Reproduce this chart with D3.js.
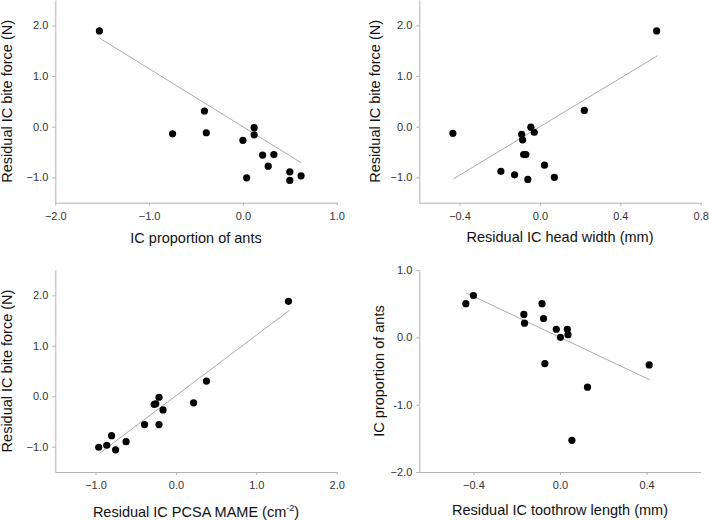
<!DOCTYPE html>
<html><head><meta charset="utf-8">
<script src="https://cdn.jsdelivr.net/npm/d3@7"></script>
<style>
html,body{margin:0;padding:0;background:#fff;}
svg{display:block;font-family:"Liberation Sans",Arial,sans-serif;}
</style></head>
<body>
<svg id="c" width="709" height="520"></svg>
<script>
// ---- data ----
const p1X = [-1.53, -0.75, -0.41, -0.39, 0.00, 0.04, 0.12, 0.12, 0.21, 0.27, 0.33, 0.50, 0.50, 0.62];
const p1Y = [1.89, -0.14, 0.31, -0.12, -0.27, -1.01, -0.02, -0.16, -0.56, -0.78, -0.55, -0.89, -1.06, -0.97];
const p1FitX = [-1.53, 0.62];
const p1FitY = [1.75, -0.71];

const p2X = [-0.433, -0.045, -0.091, -0.086, -0.028, -0.081, -0.070, 0.023, -0.194, -0.126, -0.060, 0.072, 0.221, 0.581];
const p2Y = [-0.13, -0.01, -0.15, -0.26, -0.11, -0.55, -0.55, -0.76, -0.88, -0.95, -1.04, -1.00, 0.32, 1.89];
const p2FitX = [-0.43, 0.585];
const p2FitY = [-1.03, 1.40];

const p3X = [-0.96, -0.86, -0.80, -0.75, -0.62, -0.39, -0.27, -0.25, -0.21, -0.16, -0.21, 0.22, 0.38, 1.40];
const p3Y = [-1.01, -0.97, -0.78, -1.06, -0.90, -0.56, -0.16, -0.15, -0.02, -0.27, -0.56, -0.13, 0.30, 1.88];
const p3FitX = [-0.95, 1.41];
const p3FitY = [-1.13, 1.70];

const p4X = [-0.435, -0.40, -0.167, -0.164, -0.083, -0.076, -0.070, -0.017, 0.002, 0.034, 0.037, 0.127, 0.055, 0.412];
const p4Y = [0.50, 0.62, 0.34, 0.21, 0.50, 0.28, -0.39, 0.12, 0.00, 0.12, 0.04, -0.74, -1.53, -0.41];
const p4FitX = [-0.434, 0.414];
const p4FitY = [0.66, -0.63];

const biteTicks = [2, 1, 0, -1];
const biteTickLabels = ["2.0", "1.0", "0.0", "\u22121.0"];
const p1XTicks = [-2, -1, 0, 1];
const p1XTickLabels = ["\u22122.0", "\u22121.0", "0.0", "1.0"];
const p2XTicks = [-0.4, 0, 0.4, 0.8];
const p2XTickLabels = ["\u22120.4", "0.0", "0.4", "0.8"];
const p3XTicks = [-1, 0, 1, 2];
const p3XTickLabels = ["\u22121.0", "0.0", "1.0", "2.0"];
const p4XTicks = [-0.4, 0, 0.4];
const p4XTickLabels = ["\u22120.4", "0.0", "0.4"];
const p4YTicks = [1, 0, -1, -2];
const p4YTickLabels = ["1.0", "0.0", "-1.0", "\u22122.0"];

const p1XLabel = "IC proportion of ants";
const p2XLabel = "Residual IC head width (mm)";
const p3XLabel = ["Residual IC PCSA MAME (cm", "-2", ")"];
const p4XLabel = "Residual IC toothrow length (mm)";
const biteYLabel = "Residual IC bite force (N)";
const p4YLabel = "IC proportion of ants";

// ---- drawing ----
const svg = d3.select("#c");
const axisColor = "#b3b3b3";
const lineColor = "#aaaaaa";

function panel(o) {
  const g = svg.append("g");
  const x = d3.scaleLinear().domain(o.xDomain).range([o.left, o.right]);
  const y = d3.scaleLinear().domain(o.yDomain).range([o.bottom, o.top]);

  const xa = g.append("g").attr("transform", `translate(0,${o.bottom})`)
    .call(d3.axisBottom(x).tickValues(o.xTicks).tickSize(3).tickSizeOuter(0)
      .tickFormat((d, i) => o.xTickLabels[i]));
  const ya = g.append("g").attr("transform", `translate(${o.left},0)`)
    .call(d3.axisLeft(y).tickValues(o.yTicks).tickSize(3).tickSizeOuter(0)
      .tickFormat((d, i) => o.yTickLabels[i]));
  [xa, ya].forEach(a => {
    a.select(".domain").attr("stroke", axisColor);
    a.selectAll(".tick line").attr("stroke", axisColor);
    a.selectAll(".tick text").attr("fill", "#333").style("font-size", "11px")
      .style("font-family", '"Liberation Sans",Arial,sans-serif');
  });
  xa.selectAll(".tick text").attr("dy", "0").attr("y", 17);
  ya.selectAll(".tick text").attr("x", -7);

  g.append("line")
    .attr("x1", x(o.fitX[0])).attr("y1", y(o.fitY[0]))
    .attr("x2", x(o.fitX[1])).attr("y2", y(o.fitY[1]))
    .attr("stroke", lineColor).attr("stroke-width", 1);

  g.selectAll("circle.pt").data(o.xs.map((v, i) => [v, o.ys[i]])).enter()
    .append("circle").attr("class", "pt")
    .attr("cx", d => x(d[0])).attr("cy", d => y(d[1])).attr("r", 3.6)
    .attr("fill", "#000");

  const xl = g.append("text")
    .attr("x", (o.left + o.right) / 2).attr("y", o.bottom + o.xLabelDy)
    .attr("text-anchor", "middle").attr("fill", "#111")
    .style("font-size", "14.5px");
  if (Array.isArray(o.xLabel)) {
    xl.append("tspan").text(o.xLabel[0]);
    xl.append("tspan").text(o.xLabel[1]).style("font-size", "9px").attr("dy", -6);
    xl.append("tspan").text(o.xLabel[2]).attr("dy", 6);
  } else {
    xl.text(o.xLabel);
  }

  g.append("text")
    .attr("transform", `translate(${o.yLabelX},${(o.top + o.bottom) / 2}) rotate(-90)`)
    .attr("text-anchor", "middle").attr("fill", "#111")
    .style("font-size", "14.5px").text(o.yLabel);
}

panel({ left: 55.3, right: 336.7, top: 0, bottom: 202.7,
  xDomain: [-2, 1], yDomain: [-1.5, 2.5],
  xTicks: p1XTicks, xTickLabels: p1XTickLabels,
  yTicks: biteTicks, yTickLabels: biteTickLabels,
  xs: p1X, ys: p1Y, fitX: p1FitX, fitY: p1FitY,
  xLabel: p1XLabel, xLabelDy: 40, yLabel: biteYLabel, yLabelX: 12 });

panel({ left: 419.3, right: 700.7, top: 0, bottom: 202.7,
  xDomain: [-0.6, 0.8], yDomain: [-1.5, 2.5],
  xTicks: p2XTicks, xTickLabels: p2XTickLabels,
  yTicks: biteTicks, yTickLabels: biteTickLabels,
  xs: p2X, ys: p2Y, fitX: p2FitX, fitY: p2FitY,
  xLabel: p2XLabel, xLabelDy: 39, yLabel: biteYLabel, yLabelX: 380 });

panel({ left: 55.3, right: 336.7, top: 270, bottom: 472,
  xDomain: [-1.5, 2], yDomain: [-1.5, 2.5],
  xTicks: p3XTicks, xTickLabels: p3XTickLabels,
  yTicks: biteTicks, yTickLabels: biteTickLabels,
  xs: p3X, ys: p3Y, fitX: p3FitX, fitY: p3FitY,
  xLabel: p3XLabel, xLabelDy: 45, yLabel: biteYLabel, yLabelX: 12 });

panel({ left: 419.3, right: 700.7, top: 270, bottom: 472,
  xDomain: [-0.65, 0.65], yDomain: [-2, 1],
  xTicks: p4XTicks, xTickLabels: p4XTickLabels,
  yTicks: p4YTicks, yTickLabels: p4YTickLabels,
  xs: p4X, ys: p4Y, fitX: p4FitX, fitY: p4FitY,
  xLabel: p4XLabel, xLabelDy: 43, yLabel: p4YLabel, yLabelX: 384 });
</script>
</body></html>
